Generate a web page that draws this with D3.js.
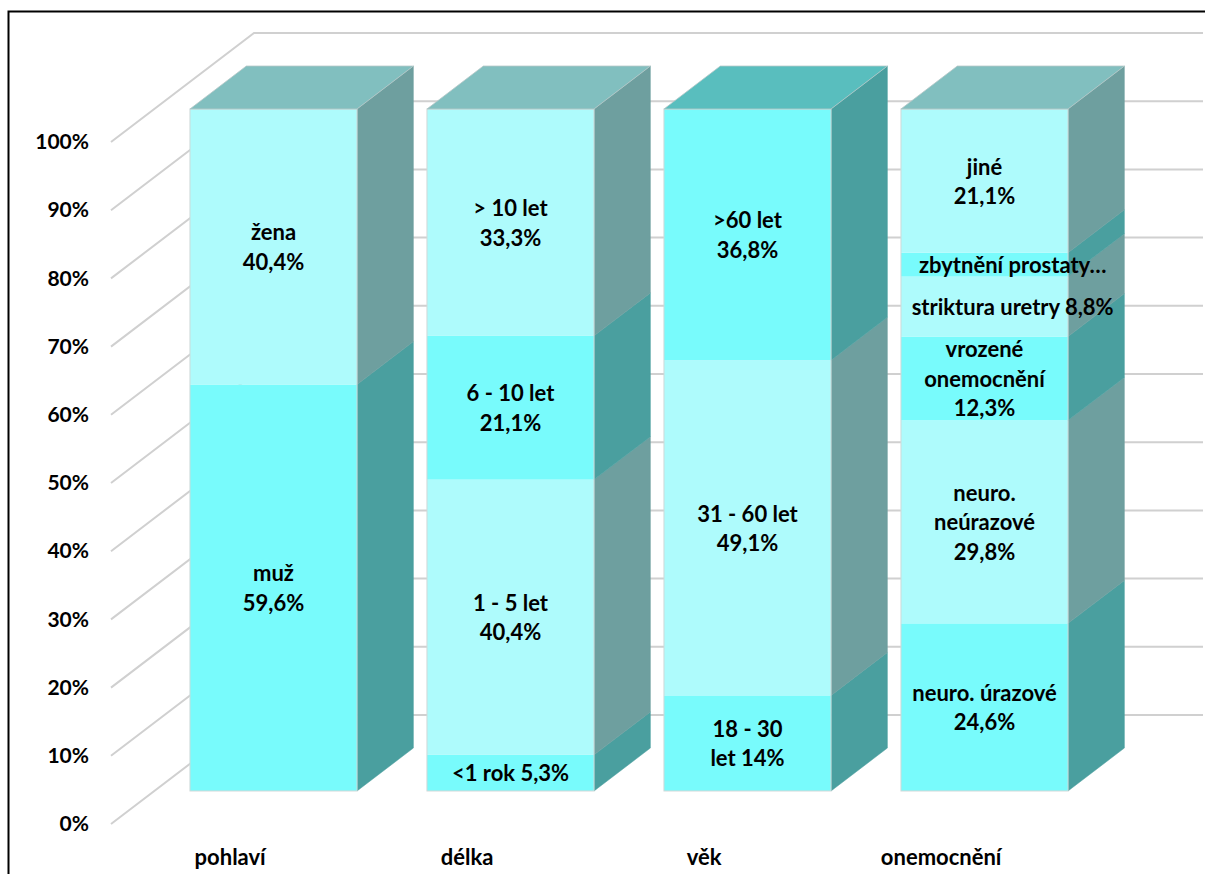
<!DOCTYPE html>
<html>
<head>
<meta charset="utf-8">
<script src="https://cdn.jsdelivr.net/npm/d3@7"></script>
<style>
  body { margin: 0; background: #fff; }
  text { font-family: Lato, "Open Sans", sans-serif; font-weight: bold; fill: #000; }
</style>
</head>
<body>
<div id="chart"></div>
<script>
// categories on the x axis
const categories = ["pohlaví", "délka", "věk", "onemocnění"];

// segment values (percent) per category, bottom to top
const pohlaviValues = [59.6, 40.4];
const delkaValues = [5.3, 40.4, 21.1, 33.3];
const vekValues = [14.0, 49.1, 36.8];
const onemocneniValues = [24.6, 29.8, 12.3, 8.8, 3.5, 21.1];

// data labels, same order
const pohlaviLabels = ["muž\n59,6%", "žena\n40,4%"];
const delkaLabels = ["<1 rok 5,3%", "1 - 5 let\n40,4%", "6 - 10 let\n21,1%", "> 10 let\n33,3%"];
const vekLabels = ["18 - 30\nlet 14%", "31 - 60 let\n49,1%", ">60 let\n36,8%"];
const onemocneniLabels = ["neuro. úrazové\n24,6%", "neuro.\nneúrazové\n29,8%", "vrozené\nonemocnění\n12,3%",
  "striktura uretry 8,8%", "zbytnění prostaty…", "jiné\n21,1%"];

const yTicks = [0, 10, 20, 30, 40, 50, 60, 70, 80, 90, 100];

const allValues = [pohlaviValues, delkaValues, vekValues, onemocneniValues];
const allLabels = [pohlaviLabels, delkaLabels, vekLabels, onemocneniLabels];

const W = 1205, H = 874;
// 3d depth vector for the whole floor, and where the bars sit in it
const DX = 143, DY = -109;
const ZF = 0.303, ZB = 0.697;

const colors = {
  front: ["#78fbfc", "#aefbfc"],
  side: ["#4a9f9f", "#6e9f9f"],
  top: ["#59bebe", "#81bfbf"]
};

const svg = d3.select("#chart").append("svg")
  .attr("width", W).attr("height", H);

// y at depth 0 (front of the side wall)
const y = d3.scaleLinear().domain([0, 100]).range([824, 142]);
// x of the bar front face (at depth ZF)
const x = d3.scaleBand().domain(categories).range([155, 1103])
  .paddingInner(0.295).paddingOuter(0.1475);

function yz(v, z) { return y(v) + DY * z; }

// gridlines: side wall + back wall
const wallX0 = 111;
const grid = svg.append("g");
yTicks.forEach((t) => {
  grid.append("polyline")
    .attr("points", [[wallX0, y(t)], [wallX0 + DX, yz(t, 1)], [1203, yz(t, 1)]].map(p => p.join(",")).join(" "))
    .attr("fill", "none")
    .attr("stroke", "#d0d0d0")
    .attr("stroke-width", 2);
});

// y axis labels
const yAxis = svg.append("g")
  .attr("transform", `translate(${wallX0},0)`)
  .call(d3.axisLeft(y).tickValues(yTicks).tickSize(0).tickPadding(22).tickFormat(d => d + "%"));
yAxis.select(".domain").remove();
yAxis.selectAll("text").style("font-size", "21px").style("font-family", "Lato, sans-serif").style("font-weight", "bold");

// bars
const bx = DX * (ZB - ZF), by = DY * (ZB - ZF);
const bars = svg.append("g");
const labelG = svg.append("g");

categories.forEach((cat, ci) => {
  const vals = allValues[ci];
  const total = d3.sum(vals);
  const x0 = x(cat), x1 = x0 + x.bandwidth();
  let acc = 0;
  const segs = vals.map((v, i) => {
    const s = { lo: acc / total * 100, hi: (acc + v) / total * 100, k: i % 2, label: allLabels[ci][i] };
    acc += v;
    return s;
  });
  const g = bars.append("g");
  // side faces
  g.selectAll("path.side").data(segs).enter().append("path")
    .attr("class", "side")
    .attr("d", d => {
      const a = yz(d.lo, ZF), b = yz(d.hi, ZF);
      return `M${x1},${a}L${x1 + bx},${a + by}L${x1 + bx},${b + by}L${x1},${b}Z`;
    })
    .attr("fill", d => colors.side[d.k])
    .attr("stroke", d => colors.side[d.k]).attr("stroke-width", 0.5);
  // front faces
  g.selectAll("rect.front").data(segs).enter().append("rect")
    .attr("class", "front")
    .attr("x", x0)
    .attr("y", d => yz(d.hi, ZF))
    .attr("width", x.bandwidth())
    .attr("height", d => yz(d.lo, ZF) - yz(d.hi, ZF))
    .attr("fill", d => colors.front[d.k]);
  // outline of the front face
  g.append("rect")
    .attr("x", x0).attr("y", yz(100, ZF))
    .attr("width", x.bandwidth()).attr("height", yz(0, ZF) - yz(100, ZF))
    .attr("fill", "none").attr("stroke", "#cfd8d8").attr("stroke-width", 1);
  // top face
  const topSeg = segs[segs.length - 1];
  const t = yz(100, ZF);
  g.append("path")
    .attr("d", `M${x0},${t}L${x0 + bx},${t + by}L${x1 + bx},${t + by}L${x1},${t}Z`)
    .attr("fill", colors.top[topSeg.k])
    .attr("stroke", "#b8c8c8").attr("stroke-width", 0.8);

  // data labels
  segs.forEach((s) => {
    const lines = s.label.split("\n");
    const cy = (yz(s.lo, ZF) + yz(s.hi, ZF)) / 2;
    const lh = 29.5;
    const txt = labelG.append("text")
      .attr("text-anchor", "middle")
      .style("font-size", "22px");
    lines.forEach((ln, li) => {
      txt.append("tspan")
        .attr("x", (x0 + x1) / 2)
        .attr("y", cy + (li - (lines.length - 1) / 2) * lh)
        .attr("dominant-baseline", "central")
        .text(ln);
    });
    // labels wider than the face move toward the middle of the box depth
    const w = txt.node().getBBox().width;
    if (w > x.bandwidth()) {
      txt.selectAll("tspan").attr("x", (x0 + x1) / 2 + bx / 2);
    }
  });

  // category label at the front of the floor
  svg.append("text")
    .attr("x", (x0 + x1) / 2 - DX * ZF)
    .attr("y", 856)
    .attr("text-anchor", "middle")
    .attr("dominant-baseline", "central")
    .style("font-size", "22px")
    .text(cat);
});

// chart frame
svg.append("rect")
  .attr("x", 8.5).attr("y", 11.5)
  .attr("width", W + 20).attr("height", H + 20)
  .attr("fill", "none").attr("stroke", "#000").attr("stroke-width", 2);
</script>
</body>
</html>
